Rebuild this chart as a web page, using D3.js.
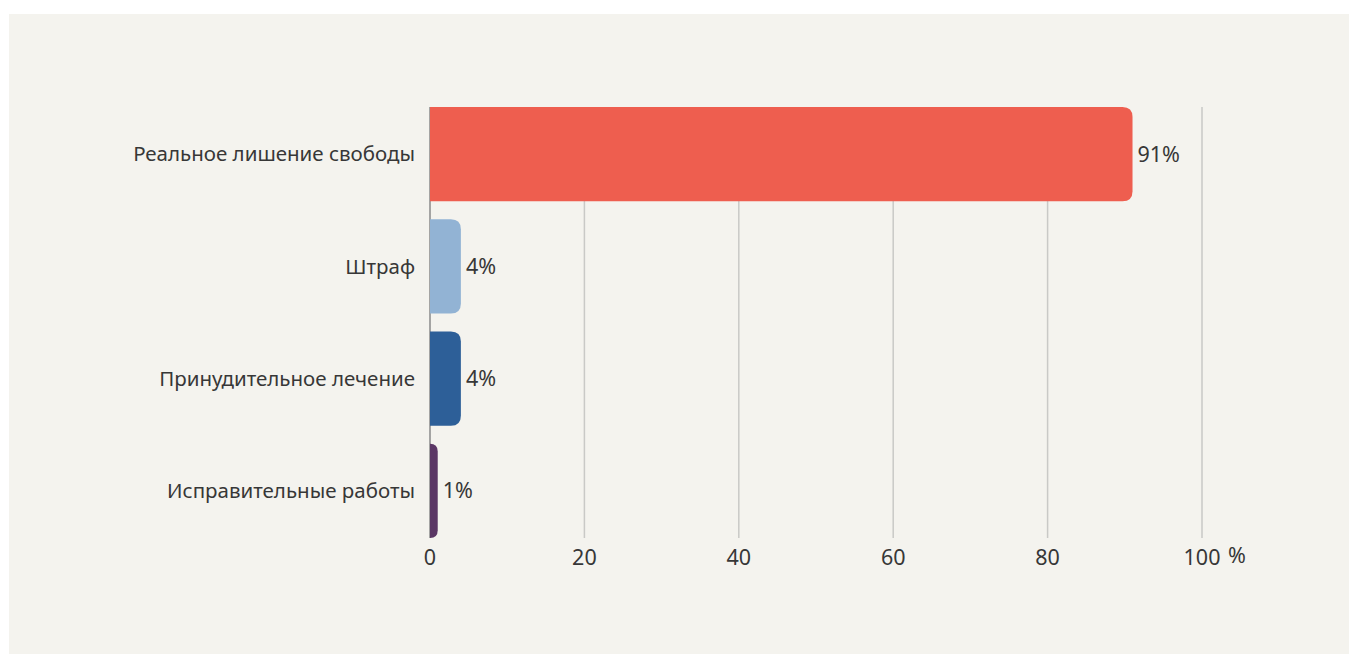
<!DOCTYPE html>
<html>
<head>
<meta charset="utf-8">
<script src="https://cdn.jsdelivr.net/npm/d3@7"></script>
<style>
  body { margin: 0; background: #fff; }
  svg { display: block; }
  text { font-family: "Noto Sans", sans-serif; fill: #373737; font-size: 20.5px; }
  text.num { font-size: 21.5px; }
</style>
</head>
<body>
<svg id="main" width="1358" height="654"></svg>
<script>
"use strict";

// data
const categories = [
  "Реальное лишение свободы",
  "Штраф",
  "Принудительное лечение",
  "Исправительные работы"
];
const values = [91, 4, 4, 1];
const barColors = ["#ee5e4f", "#92b3d4", "#2d5f98", "#5b3765"];
const ticks = [0, 20, 40, 60, 80, 100];

// layout
const margin = { left: 430, right: 156, top: 107, bottom: 116 };
const W = 1358, H = 654;

const svg = d3.select("#main");

// panel
svg.append("rect")
  .attr("x", 9).attr("y", 14)
  .attr("width", 1340).attr("height", 640)
  .attr("fill", "#f4f3ee");

const x = d3.scaleLinear().domain([0, 100]).range([margin.left, W - margin.right]);
const y = d3.scaleBand()
  .domain(categories)
  .range([margin.top, H - margin.bottom])
  .paddingInner(0.16)
  .paddingOuter(0);

// grid lines
svg.append("g").selectAll("line")
  .data(ticks)
  .enter().append("line")
  .attr("x1", d => x(d)).attr("x2", d => x(d))
  .attr("y1", margin.top).attr("y2", H - margin.bottom)
  .attr("stroke", d => d === 0 ? "#8a8a8a" : "#c9c9c6")
  .attr("stroke-width", 1.5);

// bars with rounded right end
const barPath = (x0, y0, w, h) => {
  const r = Math.min(10, w, h / 2);
  return `M${x0},${y0}H${x0 + w - r}Q${x0 + w},${y0} ${x0 + w},${y0 + r}` +
    `V${y0 + h - r}Q${x0 + w},${y0 + h} ${x0 + w - r},${y0 + h}H${x0}Z`;
};

svg.append("g").selectAll("path")
  .data(values)
  .enter().append("path")
  .attr("d", (d, i) => barPath(x(0), y(categories[i]), x(d) - x(0), y.bandwidth()))
  .attr("fill", (d, i) => barColors[i]);

// value labels
svg.append("g").selectAll("text")
  .data(values)
  .enter().append("text")
  .attr("class", "num")
  .attr("x", d => x(d) + 5)
  .attr("y", (d, i) => y(categories[i]) + y.bandwidth() / 2)
  .attr("dy", "0.35em")
  .text(d => d + "%");

// category labels
svg.append("g").selectAll("text")
  .data(categories)
  .enter().append("text")
  .attr("x", margin.left - 15)
  .attr("y", d => y(d) + y.bandwidth() / 2)
  .attr("dy", "0.35em")
  .attr("text-anchor", "end")
  .text(d => d);

// x tick labels
svg.append("g").selectAll("text")
  .data(ticks)
  .enter().append("text")
  .attr("class", "num")
  .attr("x", d => x(d))
  .attr("y", 557)
  .attr("dy", "0.35em")
  .attr("text-anchor", "middle")
  .text(d => d);

svg.append("text")
  .attr("class", "num")
  .attr("x", x(100) + 26)
  .attr("y", 555)
  .attr("dy", "0.35em")
  .text("%");
</script>
</body>
</html>
